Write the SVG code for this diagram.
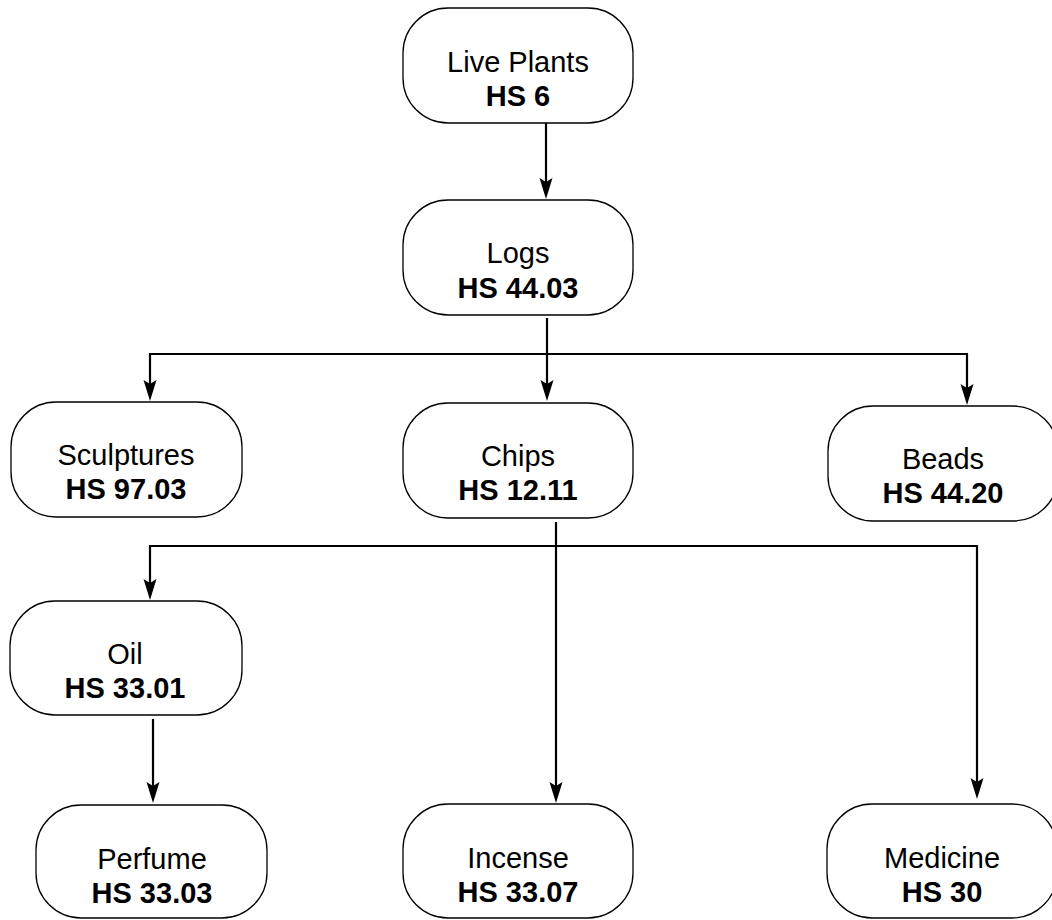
<svg xmlns="http://www.w3.org/2000/svg" width="1052" height="920" viewBox="0 0 1052 920">
<style>
.box{fill:#fff;stroke:#000;stroke-width:1.3}
.t{font-family:"Liberation Sans",Arial,Helvetica,sans-serif;font-size:29px;text-anchor:middle;fill:#000}
.b{font-weight:bold}
.c{fill:none;stroke:#000;stroke-width:2.2}
</style>
<defs>
<path id="ah" d="M0,0 L-6.5,-21 L0,-17 L6.5,-21 Z" fill="#000"/>
</defs>
<rect width="1052" height="920" fill="#fff"/>
<g id="connectors">
<path class="c" d="M546,123 V190"/>
<path class="c" d="M547,318 V392"/>
<path class="c" d="M150,392 V354 H967 V396"/>
<path class="c" d="M556,522 V794"/>
<path class="c" d="M150,591 V546 H977 V790"/>
<path class="c" d="M153,719 V794"/>
<use href="#ah" x="546" y="199"/>
<use href="#ah" x="547" y="401"/>
<use href="#ah" x="150" y="401"/>
<use href="#ah" x="967" y="405"/>
<use href="#ah" x="556" y="803"/>
<use href="#ah" x="150" y="600"/>
<use href="#ah" x="977" y="799"/>
<use href="#ah" x="153" y="803"/>
</g>
<g id="live-plants">
<rect class="box" x="403" y="8" width="230" height="115" rx="45"/>
<text class="t" x="518" y="72">Live Plants</text>
<text class="t b" x="518" y="106">HS 6</text>
</g>
<g id="logs">
<rect class="box" x="403" y="200" width="230" height="115" rx="45"/>
<text class="t" x="518" y="263">Logs</text>
<text class="t b" x="518" y="298">HS 44.03</text>
</g>
<g id="sculptures">
<rect class="box" x="11" y="402" width="231" height="115" rx="45"/>
<text class="t" x="126" y="465">Sculptures</text>
<text class="t b" x="126" y="499">HS 97.03</text>
</g>
<g id="chips">
<rect class="box" x="403" y="403" width="230" height="115" rx="45"/>
<text class="t" x="518" y="466">Chips</text>
<text class="t b" x="518" y="500">HS 12.11</text>
</g>
<g id="beads">
<rect class="box" x="828" y="406" width="230" height="115" rx="45"/>
<text class="t" x="943" y="469">Beads</text>
<text class="t b" x="943" y="503">HS 44.20</text>
</g>
<g id="oil">
<rect class="box" x="10" y="601" width="232" height="114" rx="45"/>
<text class="t" x="125" y="664">Oil</text>
<text class="t b" x="125" y="698">HS 33.01</text>
</g>
<g id="perfume">
<rect class="box" x="36" y="805" width="231" height="113" rx="45"/>
<text class="t" x="152" y="869">Perfume</text>
<text class="t b" x="152" y="903">HS 33.03</text>
</g>
<g id="incense">
<rect class="box" x="403" y="804" width="230" height="114" rx="45"/>
<text class="t" x="518" y="868">Incense</text>
<text class="t b" x="518" y="902">HS 33.07</text>
</g>
<g id="medicine">
<rect class="box" x="827" y="804" width="230" height="114" rx="45"/>
<text class="t" x="942" y="868">Medicine</text>
<text class="t b" x="942" y="902">HS 30</text>
</g>
</svg>
